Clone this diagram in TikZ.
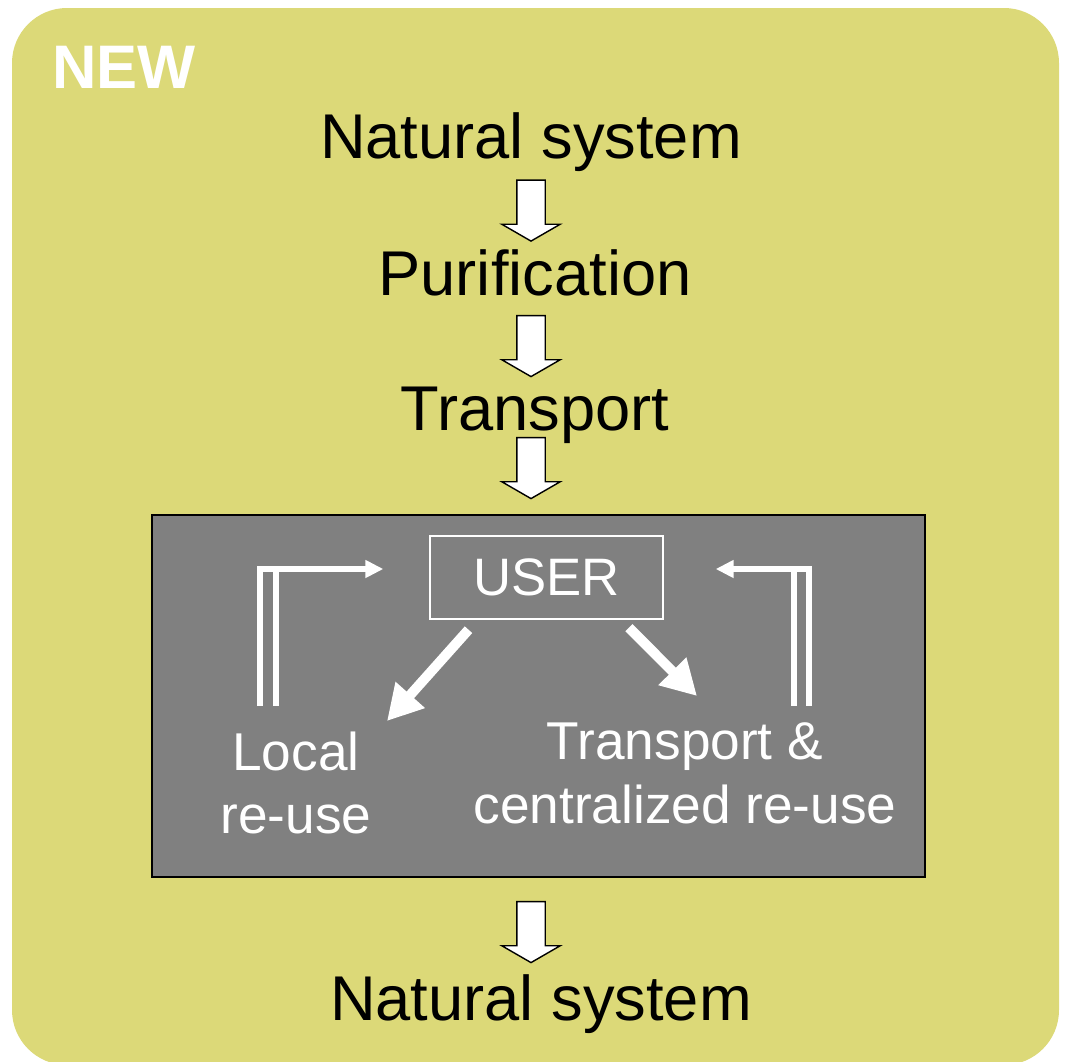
\documentclass[tikz,border=0pt]{standalone}
\usepackage{fontspec}
\setmainfont{Liberation Sans}
\usetikzlibrary{arrows.meta,positioning,calc,shapes.arrows}
\definecolor{olive}{HTML}{DCD978}
\definecolor{slate}{HTML}{808080}

\begin{document}
\begin{tikzpicture}[x=0.02cm,y=-0.02cm, big/.style={font=\fontsize{36}{40}\selectfont,anchor=base}, small/.style={font=\fontsize{30.3}{36.3}\selectfont,text=white,align=center}, hollow/.style={single arrow,draw=black,fill=white,line width=0.8pt,rotate=-90,minimum height=12.2mm,inner xsep=0pt,inner ysep=2.7mm,single arrow head extend=3mm,single arrow tip angle=120}, loopline/.style={white,line width=1.2mm}, loop/.style={loopline,-{Triangle[length=3.6mm,width=3.4mm]}}, diag/.style={white,line width=2mm,-{Triangle[length=7mm,width=7.4mm]}}]
  \useasboundingbox (0,0) rectangle (1069,1062);
  \fill[olive,rounded corners=1.1cm] (12,8) rectangle (1059,1065);
  \node[font=\fontsize{35}{40}\selectfont\bfseries,text=white,anchor=base] (new) at (124,88) {NEW};
  \node[big] (nat1) at (531,158) {Natural system};
  \node[big] (puri) at (535,295) {Purification};
  \node[big] (trans) at (535,430) {Transport};
  \node[big] (nat2) at (541,1020) {Natural system};
  \foreach \i/\y in {1/206.5,2/342,3/464,4/928}
    \node[hollow] (h\i) at (531,\y) {};
  \node[draw=black,fill=slate,line width=1pt,minimum width=15.46cm,minimum height=7.24cm,inner sep=0pt] (area) at (538.5,696) {};
  \node[draw=white,line width=0.8pt,minimum width=4.66cm,minimum height=1.66cm,font=\fontsize{30}{36}\selectfont,text=white] (user) at (546.5,577.5) {USER};
  \node[small] (local) at (296,783) {Local\\re-use};
  \node[small] (central) at (685,773) {Transport \&\\centralized re-use};
  \coordinate (lA) at (257,569);
  \coordinate (rA) at (812,569);
  \coordinate (lu) at (387,721);
  \coordinate (ru) at (697,696);
  \draw[loopline] (260,706) -- (260,566);
  \draw[loopline] (276,706) -- (276,572);
  \draw[loop,shorten >=0.92cm] (lA) -- (lA -| user.west);
  \draw[loopline] (809,706) -- (809,566);
  \draw[loopline] (794,706) -- (794,572);
  \draw[loop,shorten >=1.04cm] (rA) -- (rA -| user.east);
  \draw[diag] ($(user.south)+(-78,10)$) -- (lu);
  \draw[diag] ($(user.south)+(82.5,8)$) -- (ru);
\end{tikzpicture}
\end{document}
